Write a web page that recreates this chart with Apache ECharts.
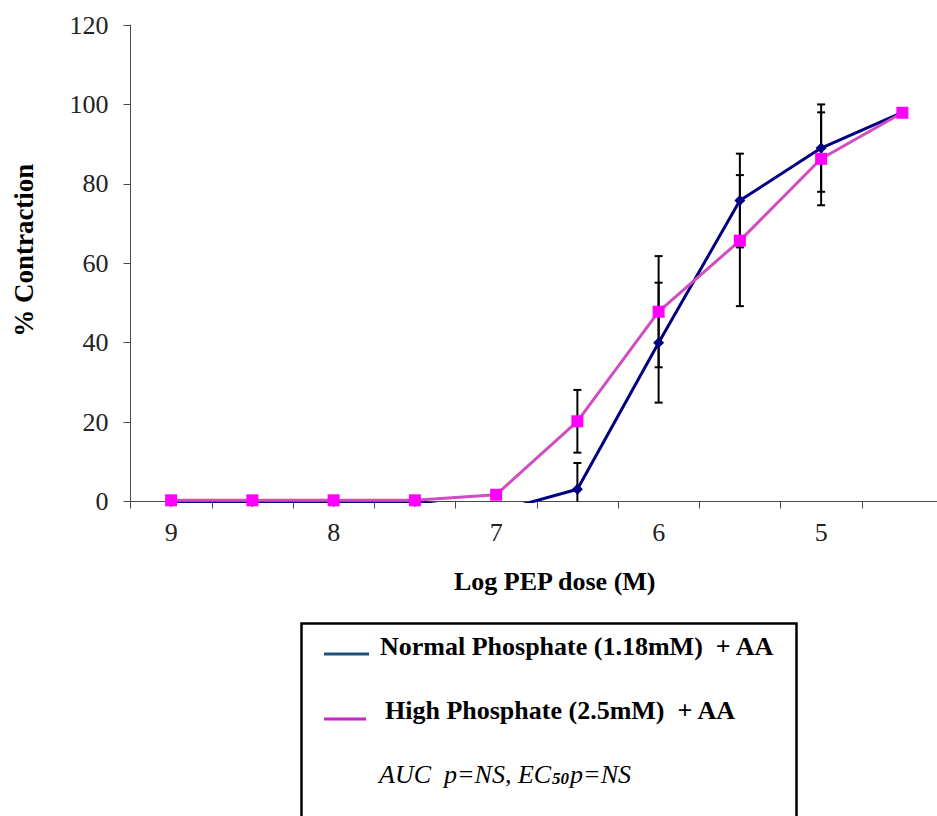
<!DOCTYPE html>
<html>
<head>
<meta charset="utf-8">
<script src="https://cdn.jsdelivr.net/npm/echarts@6/dist/echarts.min.js"></script>
<style>
  html, body { margin: 0; padding: 0; background: #ffffff; }
  #chart { width: 937px; height: 816px; }
</style>
</head>
<body>
<div id="chart"></div>
<script>
// Log PEP dose (M) categories, high to low
const doseLabels = ['9', '8.5', '8', '7.5', '7', '6.5', '6', '5.5', '5', '4.5'];

// Normal Phosphate (1.18mM) + AA : mean % contraction and error
const normalMean = [0, 0, 0, 0, -2.6, 3.1, 40.0, 75.8, 89.0, 98.0];
const normalErr  = [0, 0, 0, 0, 0, 6.6, 15.1, 11.8, 11.0, 0];

// High Phosphate (2.5mM) + AA : mean % contraction and error
const highMean = [0.3, 0.3, 0.3, 0.3, 1.7, 20.2, 47.8, 65.7, 86.3, 97.9];
const highErr  = [0, 0, 0, 0, 0, 7.9, 14.0, 16.5, 11.7, 0];

// Legend / statistics text
const seriesNames = ['Normal Phosphate (1.18mM)  + AA', 'High Phosphate (2.5mM)  + AA'];

const Y_MIN = 0, Y_MAX = 120, Y_STEP = 20;
const SERIF = "'Liberation Serif', 'Times New Roman', serif";

function errorRows(mean, err) {
  return mean.map((m, i) => [i, m, err[i]]);
}

// Vertical error bar with caps; the part below the axis minimum is cut off
function errorBarItem(params, api) {
  const idx = api.value(0);
  const mid = api.value(1);
  const err = api.value(2);
  if (!err) return null;
  const hi = mid + err;
  const lo = mid - err;
  const top = api.coord([idx, hi]);
  const bot = api.coord([idx, Math.max(lo, Y_MIN)]);
  const hw = 4;
  const st = { stroke: '#000000', lineWidth: 2 };
  const children = [
    { type: 'line', shape: { x1: top[0], y1: top[1], x2: bot[0], y2: bot[1] }, style: st },
    { type: 'line', shape: { x1: top[0] - hw, y1: top[1], x2: top[0] + hw, y2: top[1] }, style: st }
  ];
  if (lo >= Y_MIN) {
    children.push({ type: 'line', shape: { x1: bot[0] - hw, y1: bot[1], x2: bot[0] + hw, y2: bot[1] }, style: st });
  }
  return { type: 'group', children: children };
}

const chart = echarts.init(document.getElementById('chart'), null, { renderer: 'svg' });

const axisColor = '#4a4a4a';

chart.setOption({
  backgroundColor: '#ffffff',
  animation: false,
  textStyle: { fontFamily: SERIF },
  grid: {
    left: 130.5, top: 25, width: 812.5, height: 476.5,
    containLabel: false,
    outerBoundsMode: 'none'
  },
  xAxis: {
    type: 'category',
    data: doseLabels,
    boundaryGap: true,
    name: 'Log PEP dose (M)',
    nameLocation: 'middle',
    nameGap: 67,
    nameTextStyle: {
      fontFamily: SERIF, fontSize: 26, fontWeight: 'bold', color: '#000000',
      padding: [0, 0, 0, 36]
    },
    axisLine: { lineStyle: { color: axisColor, width: 1 } },
    axisTick: { show: true, interval: 0, length: 7, lineStyle: { color: axisColor } },
    axisLabel: {
      interval: 1, margin: 18,
      fontFamily: SERIF, fontSize: 26, color: '#222222'
    },
    splitLine: { show: false }
  },
  yAxis: {
    type: 'value',
    min: Y_MIN, max: Y_MAX, interval: Y_STEP,
    name: '% Contraction',
    nameLocation: 'middle',
    nameRotate: 90,
    nameGap: 93,
    nameTextStyle: {
      fontFamily: SERIF, fontSize: 27, fontWeight: 'bold', color: '#000000',
      padding: [0, 0, 0, 26]
    },
    axisLine: { show: true, lineStyle: { color: axisColor, width: 1 } },
    axisTick: { show: true, length: 7, lineStyle: { color: axisColor } },
    axisLabel: { margin: 22, fontFamily: SERIF, fontSize: 26, color: '#222222' },
    splitLine: { show: false }
  },
  series: [
    {
      name: 'Normal SEM',
      type: 'custom',
      renderItem: errorBarItem,
      data: errorRows(normalMean, normalErr),
      encode: { x: 0, y: 1 },
      z: 1,
      silent: true
    },
    {
      name: 'High SEM',
      type: 'custom',
      renderItem: errorBarItem,
      data: errorRows(highMean, highErr),
      encode: { x: 0, y: 1 },
      z: 1,
      silent: true
    },
    {
      name: seriesNames[0],
      type: 'line',
      data: normalMean,
      symbol: 'diamond',
      symbolSize: 11,
      showAllSymbol: true,
      clip: true,
      lineStyle: { color: '#000080', width: 3 },
      itemStyle: { color: '#000080' },
      z: 2
    },
    {
      name: seriesNames[1],
      type: 'line',
      data: highMean,
      symbol: 'rect',
      symbolSize: 12,
      showAllSymbol: true,
      clip: true,
      lineStyle: { color: '#D04CC0', width: 3 },
      itemStyle: { color: '#FF00FF' },
      z: 3
    }
  ],
  // Boxed key with the statistics line
  graphic: [
    {
      type: 'rect',
      shape: { x: 301.5, y: 623.5, width: 495, height: 220 },
      style: { fill: '#ffffff', stroke: '#000000', lineWidth: 2.5 }
    },
    {
      type: 'line',
      shape: { x1: 324, y1: 654, x2: 369, y2: 654 },
      style: { stroke: '#1F4E79', lineWidth: 3 }
    },
    {
      type: 'text',
      x: 380, y: 646,
      style: {
        text: seriesNames[0], fill: '#000000',
        fontFamily: SERIF, fontWeight: 'bold', fontSize: 26,
        align: 'left', verticalAlign: 'middle'
      }
    },
    {
      type: 'line',
      shape: { x1: 324, y1: 719, x2: 366, y2: 719 },
      style: { stroke: '#CC22CC', lineWidth: 3 }
    },
    {
      type: 'text',
      x: 385, y: 710.5,
      style: {
        text: seriesNames[1], fill: '#000000',
        fontFamily: SERIF, fontWeight: 'bold', fontSize: 26,
        align: 'left', verticalAlign: 'middle'
      }
    },
    {
      type: 'text',
      x: 379, y: 774,
      style: {
        text: '{a|AUC  p=NS, EC}{s|50}{a|p=NS}',
        align: 'left', verticalAlign: 'middle',
        rich: {
          a: { fontFamily: SERIF, fontStyle: 'italic', fontSize: 26, color: '#111111' },
          s: { fontFamily: SERIF, fontStyle: 'italic', fontWeight: 'bold', fontSize: 17, color: '#111111',
               verticalAlign: 'bottom', padding: [0, 1, 0, 1] }
        }
      }
    }
  ]
});
</script>
</body>
</html>
